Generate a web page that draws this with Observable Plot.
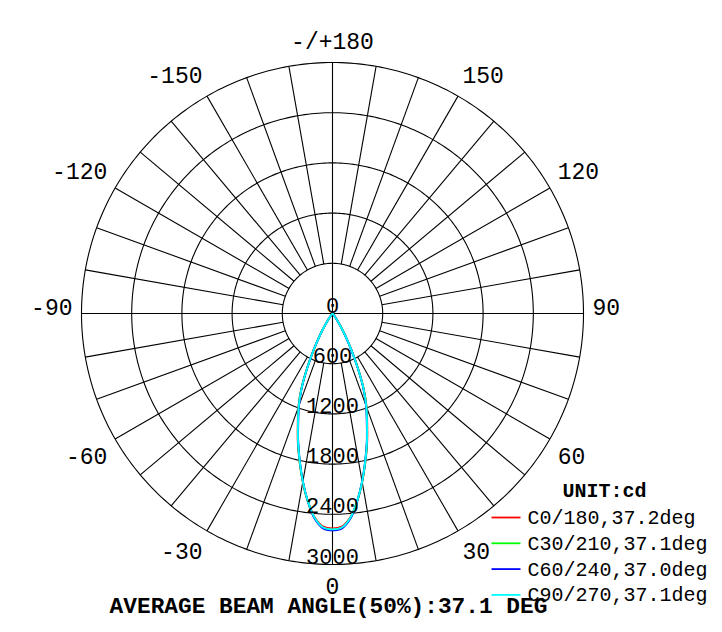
<!DOCTYPE html>
<html><head><meta charset="utf-8">
<script src="https://cdn.jsdelivr.net/npm/d3@7"></script>
<script src="https://cdn.jsdelivr.net/npm/@observablehq/plot@0.6"></script>
<style>body{margin:0;background:#fff} svg{display:block}</style>
</head><body><div id="chart"></div>
<script>
// ---- data ----
const angles = [0,2.5,5,7.5,10,12.5,15,17.5,20,22.5,25,27.5,30,32.5,35,37.5,40,45,50,60,90];
const c0   = [2570,2550,2445,2262,2045,1818,1600,1380,1192,975,718,488,305,174,88,42,21,6,0,0,0];
const c30  = [2585,2565,2455,2264,2042,1812,1592,1372,1183,968,710,482,301,171,86,41,20,6,0,0,0];
const c60  = [2590,2570,2460,2262,2038,1805,1584,1362,1172,958,702,476,297,168,84,40,20,5,0,0,0];
const c90  = [2580,2560,2450,2260,2040,1810,1590,1370,1180,965,708,480,300,170,85,40,20,6,0,0,0];
const seriesNames = ["C0/180,37.2deg","C30/210,37.1deg","C60/240,37.0deg","C90/270,37.1deg"];
const seriesColors = ["#ff0000","#00ff00","#0000ff","#00ffff"];
const seriesValues = [c0,c30,c60,c90];
const ringValues = [600,1200,1800,2400,3000];
const ringLabels = ["0","600","1200","1800","2400","3000"];
const angleTicks = [0,30,60,90,120,150,180,-150,-120,-90,-60,-30];
const angleTickLabels = ["0","30","60","90","120","150","-/+180","-150","-120","-90","-60","-30"];
const unitLabel = "UNIT:cd";
const titleText = "AVERAGE BEAM ANGLE(50%):37.1 DEG";

// ---- geometry ----
const W = 722, H = 632, cx = 332, cy = 313, R = 251, RMAX = 3000;
const k = R / RMAX;
const X = px => (px - cx) / k;   // pixel -> data helpers for legend/title placement
const Y = py => (cy - py) / k;
const rad = d => d * Math.PI / 180;
const pol = (deg, r) => ({x: r * Math.sin(rad(deg)), y: -r * Math.cos(rad(deg))});

// curves (mirrored for the opposite half-plane)
const curves = [];
seriesValues.forEach((vals, si) => {
  const pts = [];
  for (let i = angles.length - 1; i > 0; i--) pts.push({...pol(-angles[i], vals[i]), s: si});
  for (let i = 0; i < angles.length; i++) pts.push({...pol(angles[i], vals[i]), s: si});
  curves.push(pts);
});

// grid
const circles = ringValues.flatMap(r => d3.range(0, 361, 1).map(a => ({...pol(a, r), r})));
const spokes = d3.range(-170, 181, 10).map(a => {
  const inner = (a % 90 === 0) ? 0 : ringValues[0];
  const p1 = pol(a, inner), p2 = pol(a, RMAX);
  return {x1: p1.x, y1: p1.y, x2: p2.x, y2: p2.y};
});
const font = "'Liberation Mono','Courier New',monospace";

// angle labels: anchored at a point just outside the outer ring
const labR = 260 / k;
const angleLabelData = angleTicks.map((a, i) => {
  const p = pol(a, labR);
  const side = (a === 0 || a === 180) ? "middle" : (a > 0 ? "start" : "end");
  const half = Math.abs(a) === 90 ? "mid" : (Math.abs(a) > 90 ? "top" : "bottom");
  return {...p, t: angleTickLabels[i], side, half};
});
const angleLabelMarks = [];
for (const side of ["middle","start","end"]) {
  for (const half of ["top","bottom","mid"]) {
    const d = angleLabelData.filter(o => o.side === side && o.half === half);
    if (!d.length) continue;
    angleLabelMarks.push(Plot.text(d, {
      x: "x", y: "y", text: "t", textAnchor: side,
      lineAnchor: half === "bottom" ? "top" : "bottom",
      dy: half === "top" ? -5 : half === "bottom" ? 4 : 1,
      fontSize: 23, fontFamily: font, fill: "#000"
    }));
  }
}
const ringLabelData = [0, ...ringValues].map((v, i) => ({x: 0, y: -v, t: ringLabels[i]}));

// legend
const legRows = seriesNames.map((n, i) => ({
  x1: X(491), x2: X(520), y: Y(517 + i * 25.8), tx: X(527), t: n, c: seriesColors[i]
}));

const marks = [
  Plot.line(circles, {x: "x", y: "y", z: "r", stroke: "#000", strokeWidth: 1.1}),
  Plot.link(spokes, {x1: "x1", y1: "y1", x2: "x2", y2: "y2", stroke: "#000", strokeWidth: 1.1}),
  ...curves.map((pts, i) => Plot.line(pts, {x: "x", y: "y", stroke: seriesColors[i], strokeWidth: 1.9, curve: "catmull-rom"})),
  Plot.text(ringLabelData, {x: "x", y: "y", text: "t", lineAnchor: "bottom", dy: -1, fontSize: 22, fontFamily: font, fill: "#000"}),
  ...angleLabelMarks,
  Plot.text([unitLabel], {x: X(604), y: Y(490), text: d => d, lineAnchor: "middle", fontSize: 20, fontWeight: "bold", fontFamily: font, fill: "#000"}),
  Plot.link(legRows, {x1: "x1", x2: "x2", y1: "y", y2: "y", stroke: "c", strokeWidth: 1.8}),
  Plot.text(legRows, {x: "tx", y: "y", text: "t", textAnchor: "start", lineAnchor: "middle", fontSize: 20, fontFamily: font, fill: "#000"}),
  Plot.text([titleText], {x: X(328), y: Y(605), text: d => d, lineAnchor: "middle", fontSize: 22.8, fontWeight: "bold", fontFamily: font, fill: "#000"})
];

const chart = Plot.plot({
  width: W, height: H, margin: 0,
  x: {domain: [X(0), X(W)], axis: null},
  y: {domain: [Y(H), Y(0)], axis: null},
  style: {background: "#fff", overflow: "visible"},
  marks
});
document.getElementById("chart").appendChild(chart);
</script>
</body></html>
